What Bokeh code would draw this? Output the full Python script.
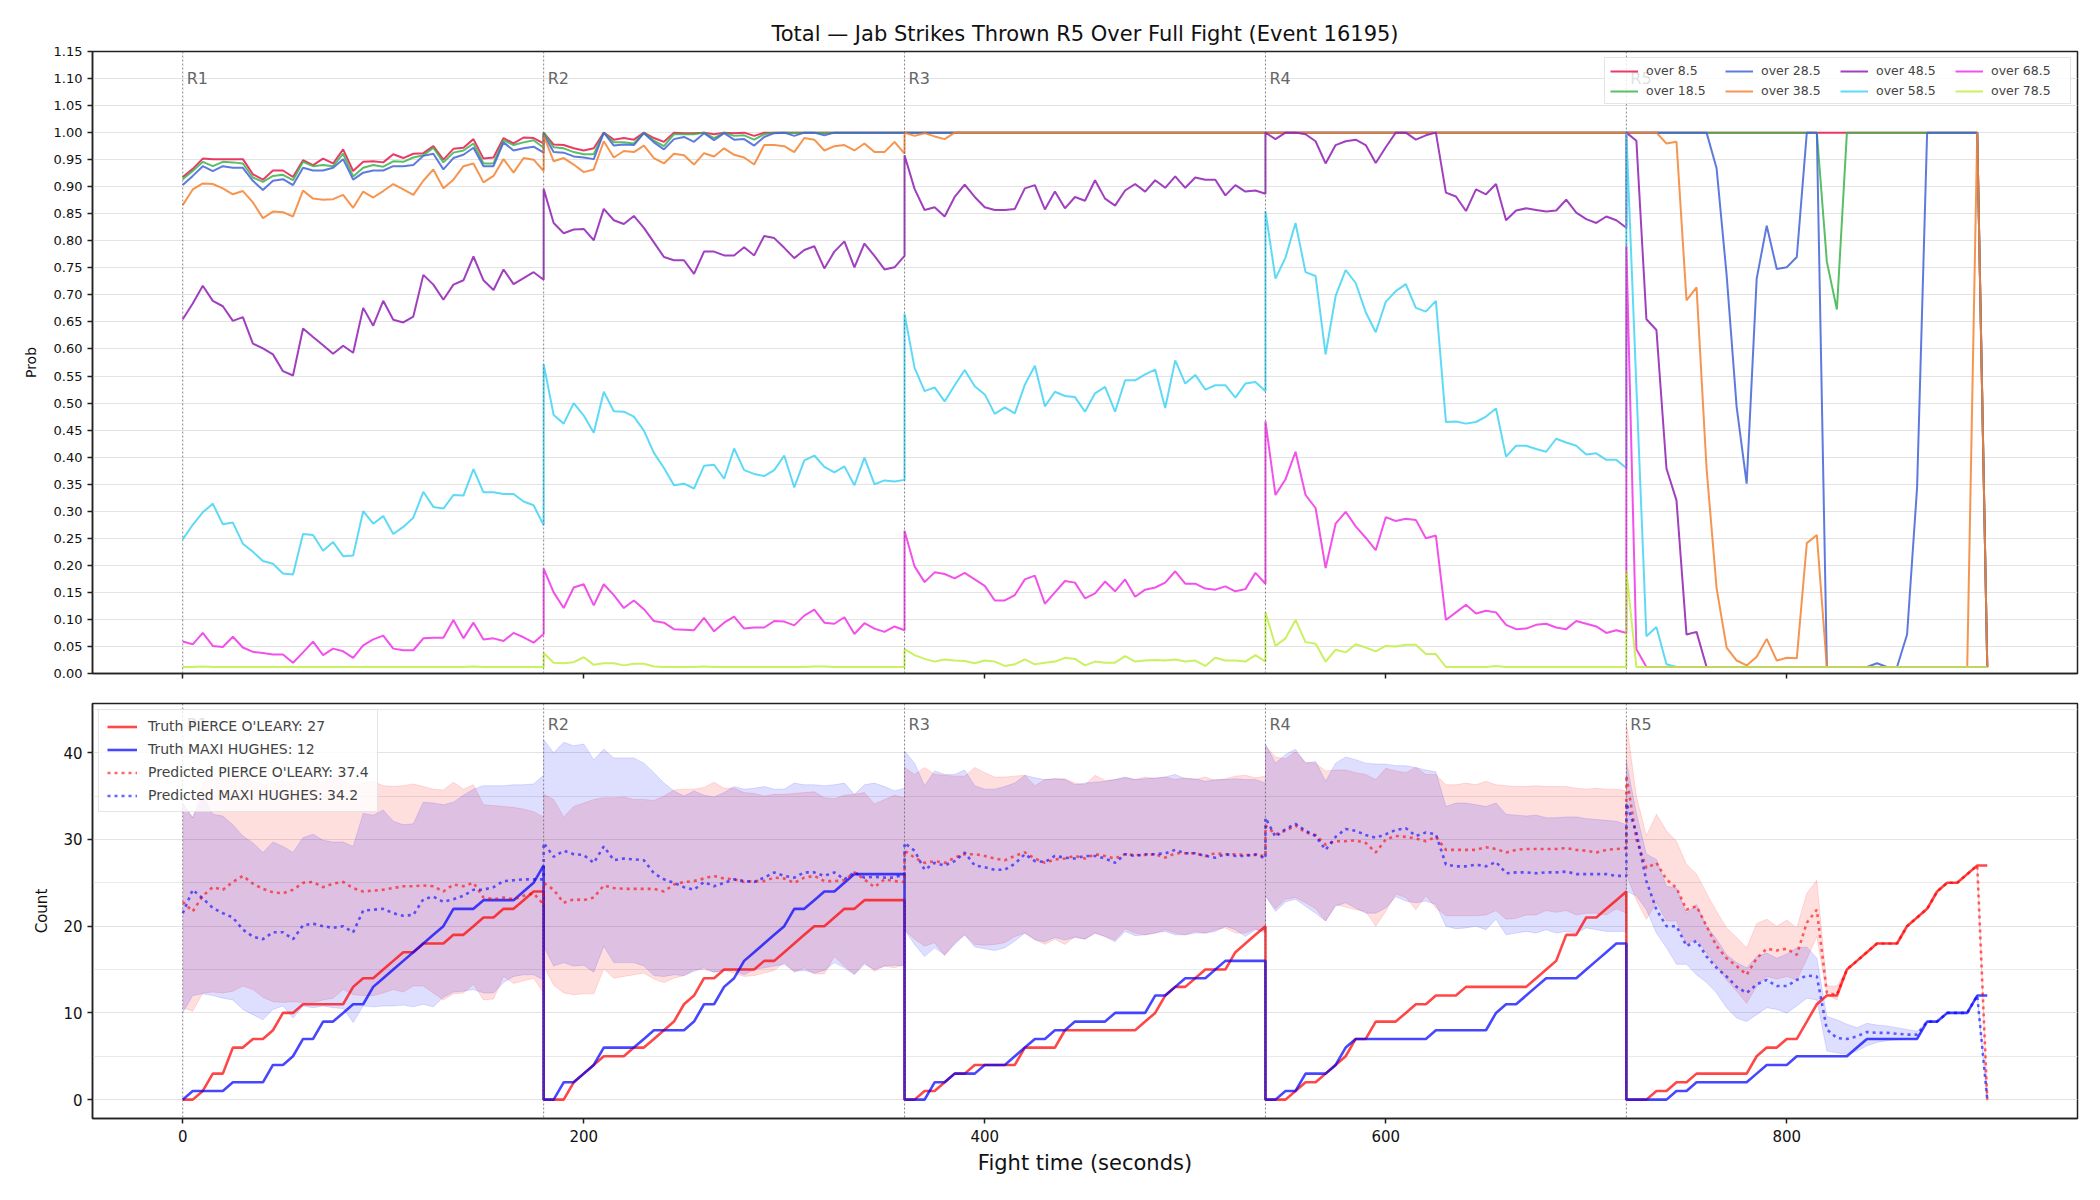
from bokeh.plotting import figure
from bokeh.layouts import column
from bokeh.models import (Range1d, FixedTicker, PrintfTickFormatter, Span, Legend,
                          LegendItem, ColumnDataSource)
from bokeh.core.properties import value
from bokeh.embed import file_html
from bokeh.resources import INLINE

FONT = "DejaVu Sans"
TITLE = "Total \u2014 Jab Strikes Thrown R5 Over Full Fight (Event 16195)"

# ---------------- sampling grid ----------------
ROUND_STARTS = [0, 180, 360, 540, 720]
ROUND_NAMES = ["R1", "R2", "R3", "R4", "R5"]
ROUND_LEN = 180
STEP = 5
T = [s + k for s in ROUND_STARTS for k in range(0, ROUND_LEN + 1, STEP)]

X_TICKS = [0, 200, 400, 600, 800]
PROB_TICKS = [0.00, 0.05, 0.10, 0.15, 0.20, 0.25, 0.30, 0.35, 0.40, 0.45, 0.50, 0.55,
              0.60, 0.65, 0.70, 0.75, 0.80, 0.85, 0.90, 0.95, 1.00, 1.05, 1.10, 1.15]
COUNT_TICKS = [0, 10, 20, 30, 40]
COUNT_MINOR = [5, 15, 25, 35, 45]

# ---------------- top panel: probabilities ----------------
LINE_LABELS = ["over 8.5", "over 18.5", "over 28.5", "over 38.5",
               "over 48.5", "over 58.5", "over 68.5", "over 78.5"]
LINE_COLORS = ["#e6194b", "#3cb44b", "#4363d8", "#f58231",
               "#911eb4", "#42d4f4", "#f032e6", "#bfef45"]

OVER_8_5 = [
    0.918, 0.933, 0.952, 0.951, 0.951, 0.951, 0.951, 0.923, 0.913, 0.930, 0.930, 0.918, 0.949, 0.940, 0.952, 0.943, 0.969, 0.929, 0.946,
    0.947, 0.945, 0.960, 0.953, 0.961, 0.962, 0.975, 0.950, 0.970, 0.972, 0.988, 0.952, 0.954, 0.990, 0.980, 0.991, 0.990, 0.980,
    1.000, 0.978, 0.977, 0.971, 0.967, 0.971, 1.000, 0.987, 0.990, 0.987, 1.000, 0.990, 0.983, 1.000, 0.999, 0.999, 1.000, 0.997, 1.000,
    0.999, 1.000, 0.994, 1.000, 1.000, 1.000, 1.000, 1.000, 1.000, 1.000, 1.000, 1.000, 1.000, 1.000, 1.000, 1.000, 1.000, 1.000,
    1.000, 1.000, 1.000, 1.000, 1.000, 1.000, 1.000, 1.000, 1.000, 1.000, 1.000, 1.000, 1.000, 1.000, 1.000, 1.000, 1.000, 1.000, 1.000,
    1.000, 1.000, 1.000, 1.000, 1.000, 1.000, 1.000, 1.000, 1.000, 1.000, 1.000, 1.000, 1.000, 1.000, 1.000, 1.000, 1.000, 1.000,
    1.000, 1.000, 1.000, 1.000, 1.000, 1.000, 1.000, 1.000, 1.000, 1.000, 1.000, 1.000, 1.000, 1.000, 1.000, 1.000, 1.000, 1.000, 1.000,
    1.000, 1.000, 1.000, 1.000, 1.000, 1.000, 1.000, 1.000, 1.000, 1.000, 1.000, 1.000, 1.000, 1.000, 1.000, 1.000, 1.000, 1.000,
    1.000, 1.000, 1.000, 1.000, 1.000, 1.000, 1.000, 1.000, 1.000, 1.000, 1.000, 1.000, 1.000, 1.000, 1.000, 1.000, 1.000, 1.000, 1.000,
    1.000, 1.000, 1.000, 1.000, 1.000, 1.000, 1.000, 1.000, 1.000, 1.000, 1.000, 1.000, 1.000, 1.000, 1.000, 1.000, 1.000, 0.012,
]
OVER_18_5 = [
    0.914, 0.929, 0.946, 0.938, 0.946, 0.945, 0.943, 0.917, 0.909, 0.920, 0.922, 0.912, 0.946, 0.938, 0.940, 0.938, 0.961, 0.919, 0.935,
    0.940, 0.937, 0.947, 0.946, 0.954, 0.958, 0.972, 0.945, 0.963, 0.967, 0.980, 0.943, 0.943, 0.986, 0.977, 0.982, 0.986, 0.972,
    1.000, 0.973, 0.971, 0.964, 0.960, 0.960, 1.000, 0.982, 0.982, 0.980, 1.000, 0.985, 0.975, 0.997, 0.997, 0.997, 1.000, 0.990, 1.000,
    0.994, 0.995, 0.987, 0.997, 1.000, 1.000, 1.000, 1.000, 1.000, 1.000, 1.000, 1.000, 1.000, 1.000, 1.000, 1.000, 1.000, 1.000,
    1.000, 1.000, 1.000, 1.000, 1.000, 1.000, 1.000, 1.000, 1.000, 1.000, 1.000, 1.000, 1.000, 1.000, 1.000, 1.000, 1.000, 1.000, 1.000,
    1.000, 1.000, 1.000, 1.000, 1.000, 1.000, 1.000, 1.000, 1.000, 1.000, 1.000, 1.000, 1.000, 1.000, 1.000, 1.000, 1.000, 1.000,
    1.000, 1.000, 1.000, 1.000, 1.000, 1.000, 1.000, 1.000, 1.000, 1.000, 1.000, 1.000, 1.000, 1.000, 1.000, 1.000, 1.000, 1.000, 1.000,
    1.000, 1.000, 1.000, 1.000, 1.000, 1.000, 1.000, 1.000, 1.000, 1.000, 1.000, 1.000, 1.000, 1.000, 1.000, 1.000, 1.000, 1.000,
    1.000, 1.000, 1.000, 1.000, 1.000, 1.000, 1.000, 1.000, 1.000, 1.000, 1.000, 1.000, 1.000, 1.000, 1.000, 1.000, 1.000, 1.000, 1.000,
    1.000, 0.761, 0.673, 1.000, 1.000, 1.000, 1.000, 1.000, 1.000, 1.000, 1.000, 1.000, 1.000, 1.000, 1.000, 1.000, 1.000, 0.012,
]
OVER_28_5 = [
    0.903, 0.920, 0.938, 0.929, 0.938, 0.935, 0.935, 0.911, 0.894, 0.911, 0.914, 0.903, 0.935, 0.930, 0.930, 0.935, 0.951, 0.913, 0.926,
    0.930, 0.930, 0.938, 0.938, 0.940, 0.957, 0.961, 0.932, 0.953, 0.959, 0.972, 0.938, 0.938, 0.982, 0.967, 0.971, 0.974, 0.963,
    0.997, 0.964, 0.963, 0.956, 0.954, 0.951, 1.000, 0.976, 0.978, 0.977, 0.999, 0.982, 0.969, 0.988, 0.992, 0.983, 0.999, 0.986, 0.999,
    0.987, 0.988, 0.976, 0.992, 0.999, 1.000, 0.994, 1.000, 1.000, 0.995, 1.000, 1.000, 1.000, 1.000, 1.000, 1.000, 1.000, 1.000,
    1.000, 1.000, 1.000, 1.000, 1.000, 1.000, 1.000, 1.000, 1.000, 1.000, 1.000, 1.000, 1.000, 1.000, 1.000, 1.000, 1.000, 1.000, 1.000,
    1.000, 1.000, 1.000, 1.000, 1.000, 1.000, 1.000, 1.000, 1.000, 1.000, 1.000, 1.000, 1.000, 1.000, 1.000, 1.000, 1.000, 1.000,
    1.000, 1.000, 1.000, 1.000, 1.000, 1.000, 1.000, 1.000, 1.000, 1.000, 1.000, 1.000, 1.000, 1.000, 1.000, 1.000, 1.000, 1.000, 1.000,
    1.000, 1.000, 1.000, 1.000, 1.000, 1.000, 1.000, 1.000, 1.000, 1.000, 1.000, 1.000, 1.000, 1.000, 1.000, 1.000, 1.000, 1.000,
    1.000, 1.000, 1.000, 1.000, 1.000, 1.000, 1.000, 1.000, 1.000, 0.934, 0.737, 0.493, 0.351, 0.730, 0.828, 0.748, 0.751, 0.770, 1.000,
    1.000, 0.012, 0.012, 0.012, 0.012, 0.012, 0.019, 0.012, 0.012, 0.072, 0.344, 1.000, 1.000, 1.000, 1.000, 1.000, 1.000, 0.012,
]
OVER_38_5 = [
    0.866, 0.895, 0.906, 0.905, 0.897, 0.886, 0.892, 0.871, 0.842, 0.854, 0.853, 0.845, 0.893, 0.878, 0.876, 0.877, 0.885, 0.861, 0.891,
    0.880, 0.892, 0.905, 0.895, 0.885, 0.911, 0.932, 0.897, 0.913, 0.938, 0.943, 0.908, 0.920, 0.951, 0.926, 0.953, 0.950, 0.929,
    0.995, 0.947, 0.953, 0.941, 0.927, 0.932, 0.984, 0.954, 0.966, 0.964, 0.976, 0.953, 0.943, 0.961, 0.958, 0.941, 0.962, 0.956, 0.971,
    0.959, 0.954, 0.941, 0.977, 0.977, 0.975, 0.964, 0.990, 0.987, 0.967, 0.975, 0.977, 0.967, 0.980, 0.964, 0.964, 0.983, 0.961,
    1.000, 0.994, 0.999, 0.993, 0.988, 1.000, 1.000, 1.000, 1.000, 1.000, 1.000, 1.000, 1.000, 1.000, 1.000, 1.000, 1.000, 1.000, 1.000,
    1.000, 1.000, 1.000, 1.000, 1.000, 1.000, 1.000, 1.000, 1.000, 1.000, 1.000, 1.000, 1.000, 1.000, 1.000, 1.000, 1.000, 1.000,
    1.000, 1.000, 1.000, 1.000, 1.000, 1.000, 1.000, 1.000, 1.000, 1.000, 1.000, 1.000, 1.000, 1.000, 1.000, 1.000, 1.000, 1.000, 1.000,
    1.000, 1.000, 1.000, 1.000, 1.000, 1.000, 1.000, 1.000, 1.000, 1.000, 1.000, 1.000, 1.000, 1.000, 1.000, 1.000, 1.000, 1.000,
    1.000, 1.000, 1.000, 1.000, 0.980, 0.983, 0.690, 0.714, 0.379, 0.158, 0.048, 0.024, 0.015, 0.031, 0.064, 0.024, 0.029, 0.028, 0.241,
    0.256, 0.012, 0.012, 0.012, 0.012, 0.012, 0.012, 0.012, 0.012, 0.012, 0.012, 0.012, 0.012, 0.012, 0.012, 0.012, 1.000, 0.012,
]
OVER_48_5 = [
    0.655, 0.684, 0.717, 0.689, 0.679, 0.652, 0.659, 0.610, 0.601, 0.590, 0.559, 0.551, 0.638, 0.622, 0.607, 0.591, 0.606, 0.593, 0.676,
    0.643, 0.689, 0.654, 0.649, 0.660, 0.737, 0.719, 0.691, 0.719, 0.727, 0.771, 0.727, 0.709, 0.747, 0.720, 0.731, 0.742, 0.728,
    0.896, 0.833, 0.814, 0.821, 0.822, 0.801, 0.859, 0.838, 0.831, 0.846, 0.824, 0.797, 0.770, 0.764, 0.764, 0.739, 0.780, 0.780, 0.773,
    0.773, 0.788, 0.773, 0.809, 0.805, 0.787, 0.768, 0.783, 0.790, 0.749, 0.780, 0.799, 0.751, 0.795, 0.772, 0.747, 0.751, 0.772,
    0.958, 0.896, 0.857, 0.862, 0.845, 0.881, 0.904, 0.881, 0.862, 0.857, 0.857, 0.859, 0.897, 0.903, 0.858, 0.891, 0.860, 0.881, 0.874,
    0.912, 0.878, 0.865, 0.893, 0.905, 0.891, 0.912, 0.898, 0.919, 0.898, 0.917, 0.913, 0.913, 0.884, 0.903, 0.891, 0.893, 0.887,
    1.000, 0.988, 1.000, 1.000, 0.997, 0.984, 0.943, 0.977, 0.984, 0.987, 0.977, 0.944, 0.973, 1.000, 1.000, 0.987, 0.995, 1.000, 0.889,
    0.882, 0.855, 0.895, 0.886, 0.905, 0.838, 0.856, 0.860, 0.857, 0.854, 0.856, 0.876, 0.852, 0.840, 0.833, 0.845, 0.838, 0.824,
    1.000, 0.985, 0.655, 0.635, 0.379, 0.320, 0.072, 0.077, 0.012, 0.012, 0.012, 0.012, 0.012, 0.012, 0.012, 0.012, 0.012, 0.012, 0.012,
    0.012, 0.012, 0.012, 0.012, 0.012, 0.012, 0.012, 0.012, 0.012, 0.012, 0.012, 0.012, 0.012, 0.012, 0.012, 0.012, 0.012, 0.012,
]
OVER_58_5 = [
    0.248, 0.275, 0.298, 0.314, 0.276, 0.279, 0.240, 0.225, 0.208, 0.203, 0.185, 0.183, 0.258, 0.256, 0.227, 0.243, 0.217, 0.218, 0.300,
    0.277, 0.291, 0.258, 0.271, 0.288, 0.336, 0.308, 0.305, 0.330, 0.329, 0.378, 0.335, 0.335, 0.332, 0.332, 0.318, 0.311, 0.274,
    0.572, 0.478, 0.462, 0.500, 0.477, 0.445, 0.521, 0.485, 0.484, 0.475, 0.449, 0.408, 0.380, 0.348, 0.351, 0.342, 0.384, 0.386, 0.360,
    0.416, 0.376, 0.369, 0.365, 0.376, 0.403, 0.344, 0.394, 0.403, 0.382, 0.372, 0.383, 0.348, 0.399, 0.350, 0.357, 0.355, 0.358,
    0.665, 0.565, 0.522, 0.529, 0.503, 0.533, 0.561, 0.531, 0.516, 0.480, 0.492, 0.481, 0.534, 0.569, 0.494, 0.521, 0.513, 0.511, 0.484,
    0.518, 0.530, 0.484, 0.542, 0.542, 0.553, 0.562, 0.491, 0.579, 0.536, 0.552, 0.525, 0.533, 0.533, 0.510, 0.536, 0.539, 0.522,
    0.855, 0.730, 0.769, 0.833, 0.742, 0.735, 0.590, 0.698, 0.746, 0.722, 0.668, 0.631, 0.687, 0.707, 0.720, 0.676, 0.669, 0.689, 0.465,
    0.466, 0.462, 0.465, 0.475, 0.490, 0.401, 0.421, 0.421, 0.415, 0.410, 0.434, 0.427, 0.421, 0.405, 0.407, 0.395, 0.395, 0.380,
    1.000, 0.530, 0.069, 0.086, 0.017, 0.012, 0.012, 0.012, 0.012, 0.012, 0.012, 0.012, 0.012, 0.012, 0.012, 0.012, 0.012, 0.012, 0.012,
    0.012, 0.012, 0.012, 0.012, 0.012, 0.012, 0.012, 0.012, 0.012, 0.012, 0.012, 0.012, 0.012, 0.012, 0.012, 0.012, 0.012, 0.012,
]
OVER_68_5 = [
    0.059, 0.054, 0.075, 0.051, 0.049, 0.068, 0.048, 0.040, 0.038, 0.035, 0.035, 0.020, 0.039, 0.059, 0.034, 0.046, 0.041, 0.029, 0.052,
    0.063, 0.070, 0.046, 0.043, 0.043, 0.065, 0.066, 0.066, 0.099, 0.065, 0.094, 0.063, 0.065, 0.060, 0.075, 0.067, 0.057, 0.073,
    0.194, 0.150, 0.121, 0.159, 0.165, 0.126, 0.165, 0.145, 0.121, 0.135, 0.119, 0.097, 0.094, 0.082, 0.081, 0.080, 0.103, 0.078, 0.094,
    0.105, 0.083, 0.085, 0.085, 0.097, 0.096, 0.089, 0.107, 0.118, 0.094, 0.092, 0.104, 0.073, 0.093, 0.083, 0.077, 0.087, 0.080,
    0.264, 0.198, 0.169, 0.187, 0.184, 0.176, 0.186, 0.174, 0.162, 0.135, 0.135, 0.145, 0.174, 0.181, 0.129, 0.150, 0.171, 0.168, 0.139,
    0.148, 0.170, 0.152, 0.174, 0.142, 0.155, 0.159, 0.168, 0.189, 0.166, 0.166, 0.157, 0.155, 0.161, 0.152, 0.156, 0.186, 0.166,
    0.466, 0.330, 0.359, 0.410, 0.330, 0.306, 0.195, 0.277, 0.299, 0.272, 0.251, 0.228, 0.289, 0.282, 0.286, 0.284, 0.250, 0.255, 0.099,
    0.113, 0.127, 0.111, 0.116, 0.113, 0.090, 0.082, 0.083, 0.090, 0.092, 0.085, 0.082, 0.097, 0.092, 0.087, 0.075, 0.080, 0.075,
    0.790, 0.045, 0.012, 0.012, 0.012, 0.012, 0.012, 0.012, 0.012, 0.012, 0.012, 0.012, 0.012, 0.012, 0.012, 0.012, 0.012, 0.012, 0.012,
    0.012, 0.012, 0.012, 0.012, 0.012, 0.012, 0.012, 0.012, 0.012, 0.012, 0.012, 0.012, 0.012, 0.012, 0.012, 0.012, 0.012, 0.012,
]
OVER_78_5 = [
    0.012, 0.012, 0.013, 0.012, 0.012, 0.012, 0.012, 0.012, 0.012, 0.012, 0.012, 0.012, 0.012, 0.012, 0.012, 0.012, 0.012, 0.012, 0.012,
    0.012, 0.012, 0.012, 0.012, 0.012, 0.012, 0.012, 0.012, 0.012, 0.012, 0.013, 0.012, 0.012, 0.012, 0.012, 0.012, 0.012, 0.012,
    0.038, 0.020, 0.019, 0.021, 0.030, 0.016, 0.019, 0.019, 0.015, 0.018, 0.018, 0.013, 0.012, 0.012, 0.012, 0.012, 0.013, 0.012, 0.012,
    0.012, 0.012, 0.012, 0.012, 0.012, 0.012, 0.012, 0.012, 0.013, 0.013, 0.012, 0.012, 0.012, 0.012, 0.012, 0.012, 0.012, 0.012,
    0.045, 0.034, 0.027, 0.022, 0.026, 0.024, 0.023, 0.019, 0.024, 0.022, 0.014, 0.017, 0.026, 0.017, 0.020, 0.022, 0.029, 0.027, 0.015,
    0.022, 0.020, 0.020, 0.032, 0.022, 0.024, 0.025, 0.024, 0.026, 0.022, 0.024, 0.014, 0.029, 0.024, 0.024, 0.022, 0.034, 0.022,
    0.113, 0.051, 0.065, 0.099, 0.058, 0.055, 0.022, 0.044, 0.039, 0.054, 0.048, 0.041, 0.051, 0.050, 0.053, 0.053, 0.036, 0.036, 0.012,
    0.012, 0.012, 0.012, 0.012, 0.014, 0.012, 0.012, 0.012, 0.012, 0.012, 0.012, 0.012, 0.012, 0.012, 0.012, 0.012, 0.012, 0.012,
    0.190, 0.012, 0.012, 0.012, 0.012, 0.012, 0.012, 0.012, 0.012, 0.012, 0.012, 0.012, 0.012, 0.012, 0.012, 0.012, 0.012, 0.012, 0.012,
    0.012, 0.012, 0.012, 0.012, 0.012, 0.012, 0.012, 0.012, 0.012, 0.012, 0.012, 0.012, 0.012, 0.012, 0.012, 0.012, 0.012, 0.012,
]
PROB_SERIES = [OVER_8_5, OVER_18_5, OVER_28_5, OVER_38_5, OVER_48_5, OVER_58_5, OVER_68_5, OVER_78_5]

# ---------------- bottom panel: counts ----------------
NAME_A = "PIERCE O'LEARY"
NAME_B = "MAXI HUGHES"
TRUTH_FINAL_A = 27
TRUTH_FINAL_B = 12
PRED_FINAL_A = 37.4
PRED_FINAL_B = 34.2

TRUTH_A = [
    0, 0, 1, 3, 3, 6, 6, 7, 7, 8, 10, 10, 11, 11, 11, 11, 11, 13, 14, 14, 15, 16, 17, 17, 18, 18, 18, 19, 19, 20, 21, 21, 22, 22, 23, 24, 24,
    0, 0, 0, 2, 3, 4, 5, 5, 5, 6, 6, 7, 8, 9, 11, 12, 14, 14, 15, 15, 15, 15, 16, 16, 17, 18, 19, 20, 20, 21, 22, 22, 23, 23, 23, 23, 23,
    0, 0, 1, 1, 2, 3, 3, 4, 4, 4, 4, 4, 6, 6, 6, 6, 8, 8, 8, 8, 8, 8, 8, 8, 9, 10, 12, 13, 13, 14, 15, 15, 15, 17, 18, 19, 20,
    0, 0, 0, 1, 2, 2, 3, 4, 5, 7, 7, 9, 9, 9, 10, 11, 11, 12, 12, 12, 13, 13, 13, 13, 13, 13, 13, 14, 15, 16, 19, 19, 21, 21, 22, 23, 24,
    0, 0, 0, 1, 1, 2, 2, 3, 3, 3, 3, 3, 3, 5, 6, 6, 7, 7, 9, 11, 12, 12, 15, 16, 17, 18, 18, 18, 20, 21, 22, 24, 25, 25, 26, 27, 27,
]
TRUTH_B = [
    0, 1, 1, 1, 1, 2, 2, 2, 2, 4, 4, 5, 7, 7, 9, 9, 10, 11, 11, 13, 14, 15, 16, 17, 18, 19, 20, 22, 22, 22, 23, 23, 23, 23, 24, 25, 27,
    0, 0, 2, 2, 3, 4, 6, 6, 6, 6, 7, 8, 8, 8, 8, 9, 11, 11, 13, 14, 16, 17, 18, 19, 20, 22, 22, 23, 24, 24, 25, 26, 26, 26, 26, 26, 26,
    0, 0, 0, 2, 2, 3, 3, 3, 4, 4, 4, 5, 6, 7, 7, 8, 8, 9, 9, 9, 9, 10, 10, 10, 10, 12, 12, 13, 14, 14, 14, 15, 16, 16, 16, 16, 16,
    0, 0, 1, 1, 3, 3, 3, 4, 6, 7, 7, 7, 7, 7, 7, 7, 7, 8, 8, 8, 8, 8, 8, 10, 11, 11, 12, 13, 14, 14, 14, 14, 15, 16, 17, 18, 18,
    0, 0, 0, 0, 0, 1, 1, 2, 2, 2, 2, 2, 2, 3, 4, 4, 4, 5, 5, 5, 5, 5, 5, 6, 7, 7, 7, 7, 7, 7, 9, 9, 10, 10, 10, 12, 12,
]
PRED_A = [
    22.8, 21.7, 23.5, 24.5, 24.2, 25.1, 25.8, 24.9, 24.3, 23.9, 23.8, 24.2, 25.0, 25.1, 24.5, 24.9, 25.1, 24.4, 24.0,
    24.1, 24.2, 24.4, 24.6, 24.6, 24.7, 24.6, 24.0, 24.8, 24.6, 25.0, 23.3, 23.1, 23.3, 23.1, 23.5, 23.8, 22.5,
    25.0, 24.2, 22.7, 23.1, 23.0, 23.3, 24.7, 24.4, 24.3, 24.3, 24.3, 24.3, 24.0, 24.8, 25.1, 25.2, 25.5, 25.8, 25.5,
    25.4, 25.1, 25.2, 25.2, 25.6, 25.5, 25.0, 25.6, 25.8, 25.2, 25.2, 25.3, 26.2, 25.4, 24.5, 25.4, 25.2, 25.1,
    28.7, 27.9, 27.3, 27.5, 27.3, 27.9, 28.3, 28.3, 28.1, 27.8, 27.6, 28.1, 28.5, 27.8, 27.3, 27.7, 27.8, 28.1, 27.8,
    28.3, 28.1, 27.8, 28.3, 28.2, 28.2, 28.3, 27.9, 28.4, 28.4, 28.4, 28.1, 28.4, 28.3, 28.3, 28.2, 28.2, 28.1,
    31.6, 30.6, 31.0, 31.6, 30.8, 30.5, 29.4, 29.8, 29.8, 29.9, 29.6, 28.5, 30.0, 30.4, 30.3, 30.1, 29.8, 30.3, 28.8,
    28.8, 28.8, 28.8, 29.1, 28.9, 28.5, 28.8, 28.9, 28.9, 28.9, 28.9, 29.0, 28.8, 28.7, 28.5, 28.8, 28.9, 29.0,
    37.4, 30.0, 26.7, 27.3, 25.4, 24.4, 21.9, 22.3, 20.0, 17.7, 16.3, 15.4, 14.4, 16.3, 17.4, 17.2, 17.4, 16.7, 20.4,
    21.9, 12.3, 12.1, 15.0, 16.0, 17.0, 18.0, 18.0, 18.0, 20.0, 21.0, 22.0, 24.0, 25.0, 25.0, 26.0, 27.0, 0.0,
]
PRED_B = [
    21.5, 24.2, 23.2, 22.1, 21.5, 21.0, 19.6, 18.8, 18.5, 19.3, 19.3, 18.5, 20.1, 20.3, 20.0, 19.8, 20.0, 19.3, 21.8,
    21.9, 22.0, 21.5, 21.2, 21.3, 23.1, 23.4, 22.8, 23.1, 23.5, 24.2, 24.2, 24.5, 25.2, 25.3, 25.4, 25.4, 25.4,
    29.6, 28.0, 28.7, 28.3, 28.2, 27.3, 29.2, 27.6, 27.8, 27.7, 27.6, 26.1, 25.4, 25.0, 24.5, 24.2, 25.1, 24.6, 25.0,
    25.4, 25.2, 25.1, 25.6, 26.2, 25.8, 25.6, 26.2, 26.2, 25.8, 26.2, 25.4, 26.2, 25.6, 25.7, 25.6, 25.6, 26.0,
    29.6, 28.7, 26.5, 27.3, 27.0, 27.5, 28.5, 27.0, 26.8, 26.5, 26.5, 27.2, 28.3, 27.5, 27.4, 28.1, 27.9, 27.8, 28.1,
    28.1, 27.8, 27.3, 28.3, 28.1, 28.3, 28.3, 28.4, 28.8, 28.4, 28.4, 28.1, 27.9, 28.3, 28.1, 28.1, 28.3, 27.8,
    32.5, 30.3, 31.2, 31.8, 31.0, 30.4, 28.8, 30.3, 31.2, 31.0, 30.5, 30.2, 30.6, 31.1, 31.3, 30.4, 30.8, 30.6, 27.1,
    26.9, 26.9, 27.1, 26.9, 27.4, 26.1, 26.2, 26.2, 26.1, 26.2, 26.2, 26.3, 26.0, 26.0, 26.0, 26.0, 25.8, 25.8,
    34.2, 30.8, 25.2, 21.9, 20.0, 20.0, 17.7, 18.3, 16.5, 15.2, 14.2, 13.0, 12.3, 13.3, 13.8, 13.1, 13.1, 13.8, 14.3,
    14.2, 8.1, 7.1, 7.0, 7.3, 7.8, 7.7, 7.7, 7.6, 7.5, 7.5, 9.0, 9.0, 10.0, 10.0, 10.0, 12.0, 0.0,
]
HI_A = [
    34.2, 32.5, 36.5, 37.0, 37.3, 37.0, 37.5, 36.8, 36.3, 36.5, 36.8, 36.5, 37.2, 37.0, 36.5, 37.3, 36.8, 36.2, 36.5,
    36.7, 36.2, 36.1, 36.2, 36.4, 36.1, 35.8, 35.7, 36.6, 35.8, 36.3, 34.0, 33.9, 33.8, 33.7, 33.5, 33.2, 32.6,
    35.2, 34.6, 32.6, 33.8, 34.2, 34.6, 34.8, 34.8, 34.9, 34.6, 34.6, 34.5, 35.0, 35.7, 35.8, 35.8, 36.0, 36.6, 35.9,
    35.9, 35.4, 35.3, 35.0, 35.2, 35.2, 35.3, 35.4, 35.5, 34.8, 34.7, 35.1, 35.2, 35.4, 34.1, 34.6, 35.1, 34.8,
    38.3, 37.5, 38.3, 37.5, 37.4, 37.3, 37.3, 38.3, 37.7, 37.2, 37.2, 37.3, 37.4, 36.2, 36.9, 37.0, 37.0, 36.5, 36.3,
    37.4, 36.8, 36.9, 37.1, 36.9, 37.2, 37.0, 37.2, 36.9, 37.1, 36.9, 37.2, 36.8, 37.0, 37.3, 37.4, 37.1, 37.3,
    40.8, 39.5, 39.3, 40.1, 38.9, 38.8, 37.9, 38.0, 38.0, 37.7, 37.5, 36.9, 38.2, 37.9, 37.7, 38.3, 37.5, 37.5, 36.3,
    36.3, 36.5, 36.3, 36.7, 36.3, 36.2, 36.1, 36.1, 36.2, 36.1, 36.1, 36.1, 35.9, 35.8, 35.9, 35.8, 35.8, 35.6,
    43.5, 35.0, 30.4, 32.9, 31.0, 29.8, 27.1, 26.0, 23.8, 21.7, 19.8, 18.7, 17.5, 20.3, 20.8, 20.0, 20.7, 19.8, 23.8,
    25.3, 13.1, 13.1, 15.0, 16.0, 17.0, 18.0, 18.0, 18.0, 20.0, 21.0, 22.0, 24.0, 25.0, 25.0, 26.0, 27.0, 0.0,
]
LO_A = [
    10.6, 10.2, 12.3, 12.4, 12.3, 12.5, 13.1, 12.7, 11.8, 11.3, 11.2, 11.3, 11.2, 11.2, 11.5, 11.7, 12.7, 12.1, 12.0,
    12.0, 12.3, 12.7, 12.4, 13.1, 13.1, 12.3, 11.5, 12.2, 12.3, 13.3, 11.5, 11.6, 14.2, 13.4, 13.7, 14.0, 12.3,
    15.4, 13.2, 12.3, 12.1, 12.2, 12.2, 15.1, 14.0, 14.2, 14.4, 14.6, 13.9, 13.5, 14.0, 14.3, 15.0, 15.0, 14.7, 14.9,
    14.6, 14.2, 14.3, 14.6, 14.9, 15.8, 14.7, 15.2, 14.5, 14.5, 16.5, 15.4, 14.5, 15.8, 14.8, 15.4, 15.2, 15.6,
    19.6, 18.5, 17.7, 18.1, 16.6, 18.1, 19.0, 17.9, 17.8, 17.9, 18.1, 18.8, 19.2, 18.5, 17.9, 18.5, 17.9, 18.8, 18.5,
    19.2, 18.8, 18.4, 19.7, 19.2, 19.0, 19.2, 19.6, 19.2, 19.0, 19.4, 19.2, 19.6, 19.8, 19.2, 19.2, 19.7, 19.2,
    23.5, 22.0, 23.1, 23.3, 22.7, 22.0, 20.6, 22.5, 22.2, 21.9, 21.7, 20.0, 21.7, 23.7, 23.3, 21.9, 23.5, 22.1, 21.2,
    21.2, 21.2, 21.2, 21.3, 21.8, 20.8, 20.9, 21.3, 21.3, 21.8, 21.6, 21.8, 21.3, 21.5, 21.5, 21.3, 22.0, 21.5,
    26.0, 23.0, 20.8, 22.7, 20.6, 20.6, 17.9, 18.5, 16.9, 15.4, 13.8, 12.5, 11.1, 13.1, 14.2, 13.9, 14.2, 13.8, 16.2,
    18.8, 12.1, 11.5, 15.0, 16.0, 17.0, 18.0, 18.0, 18.0, 20.0, 21.0, 22.0, 24.0, 25.0, 25.0, 26.0, 27.0, 0.0,
]
HI_B = [
    34.2, 32.5, 35.1, 32.9, 32.7, 31.7, 30.4, 29.6, 28.5, 29.7, 29.2, 28.5, 30.2, 30.6, 29.9, 29.7, 29.7, 29.2, 33.0,
    32.8, 33.4, 32.1, 31.7, 31.8, 34.3, 34.2, 34.0, 34.3, 35.1, 35.8, 36.2, 36.2, 36.2, 36.3, 36.3, 36.4, 37.4,
    41.5, 40.0, 41.2, 40.8, 41.0, 39.2, 40.4, 39.4, 39.4, 39.4, 38.8, 37.7, 36.5, 35.6, 35.0, 35.6, 35.1, 34.9, 35.4,
    36.1, 35.8, 35.9, 36.1, 35.8, 35.8, 36.5, 36.3, 36.3, 36.2, 36.3, 36.5, 35.2, 36.3, 36.5, 36.1, 35.6, 35.9,
    40.2, 38.8, 36.2, 37.9, 37.5, 37.5, 38.0, 36.2, 35.8, 35.8, 36.1, 36.5, 37.4, 37.1, 36.9, 37.0, 36.9, 36.3, 36.5,
    36.6, 36.7, 36.9, 37.2, 36.9, 37.0, 37.1, 37.2, 37.5, 37.0, 37.0, 36.7, 36.9, 36.9, 37.0, 36.9, 36.9, 36.5,
    41.0, 38.8, 39.8, 40.4, 38.8, 39.0, 36.7, 38.8, 39.5, 39.2, 38.8, 38.7, 38.7, 38.5, 38.5, 38.3, 38.0, 37.8, 33.8,
    34.2, 34.2, 34.0, 33.8, 34.2, 32.9, 32.8, 32.7, 32.8, 32.5, 32.5, 32.6, 32.6, 32.4, 32.3, 32.2, 32.1, 31.7,
    39.0, 33.0, 28.3, 27.7, 24.6, 24.4, 21.5, 22.5, 20.0, 18.5, 16.7, 15.8, 15.2, 16.5, 16.9, 16.3, 16.8, 17.5, 17.6,
    16.3, 9.6, 9.2, 8.7, 8.3, 8.8, 8.6, 8.5, 8.3, 8.1, 7.9, 9.0, 9.0, 10.0, 10.0, 10.0, 12.0, 0.0,
]
LO_B = [
    10.0, 12.0, 12.2, 12.0, 11.7, 11.5, 10.4, 9.8, 9.2, 10.4, 10.8, 9.4, 10.8, 10.6, 10.8, 10.6, 10.5, 8.9, 10.8,
    10.7, 10.8, 10.8, 10.9, 10.7, 11.0, 10.7, 11.8, 12.4, 12.5, 12.7, 12.3, 12.3, 13.5, 14.2, 14.4, 14.4, 13.8,
    17.7, 15.4, 15.8, 15.4, 15.5, 14.7, 17.7, 15.8, 15.8, 15.8, 15.4, 14.3, 14.2, 14.4, 14.3, 14.8, 15.2, 14.7, 14.9,
    14.9, 14.4, 15.0, 15.2, 15.4, 15.6, 14.8, 14.9, 14.6, 14.9, 15.8, 15.2, 14.4, 15.6, 15.0, 15.4, 15.5, 15.4,
    19.6, 17.9, 16.5, 17.5, 16.7, 17.9, 19.0, 17.6, 17.4, 17.2, 17.5, 18.3, 19.2, 18.4, 18.2, 18.7, 18.4, 18.7, 18.5,
    19.2, 18.8, 18.2, 19.4, 18.9, 19.0, 19.2, 19.4, 19.0, 19.0, 19.2, 19.2, 19.4, 20.0, 19.6, 18.8, 19.6, 19.4,
    23.5, 21.7, 22.8, 23.1, 22.3, 21.5, 20.6, 22.3, 22.7, 22.1, 21.5, 21.5, 22.1, 23.4, 22.9, 22.7, 22.9, 22.5, 20.0,
    19.7, 19.8, 20.0, 19.6, 20.8, 19.0, 19.2, 19.4, 19.2, 19.6, 19.2, 19.4, 19.2, 19.8, 19.6, 19.4, 19.4, 19.4,
    24.0, 23.5, 21.9, 19.2, 17.5, 15.6, 15.6, 14.4, 13.5, 12.3, 10.6, 9.4, 9.0, 9.8, 10.6, 10.4, 10.0, 10.8, 11.7,
    11.5, 5.6, 5.4, 5.2, 5.6, 6.2, 6.6, 6.8, 6.9, 7.0, 7.0, 9.0, 9.0, 10.0, 10.0, 10.0, 12.0, 0.0,
]

for nm, arr in [("OVER_8_5", OVER_8_5), ("OVER_18_5", OVER_18_5), ("OVER_28_5", OVER_28_5),
                ("OVER_38_5", OVER_38_5), ("OVER_48_5", OVER_48_5), ("OVER_58_5", OVER_58_5),
                ("OVER_68_5", OVER_68_5), ("OVER_78_5", OVER_78_5), ("TRUTH_A", TRUTH_A),
                ("TRUTH_B", TRUTH_B), ("PRED_A", PRED_A), ("PRED_B", PRED_B), ("HI_A", HI_A),
                ("LO_A", LO_A), ("HI_B", HI_B), ("LO_B", LO_B)]:
    assert len(arr) == len(T), f"{nm} has {len(arr)} values, expected {len(T)}"

RED = "#ff0000"
BLUE = "#0000ff"

# ---------------- figures ----------------
x_range = Range1d(-45, 945)


def style(p):
    p.outline_line_color = "#222222"
    p.outline_line_width = 1.5
    p.background_fill_color = "white"
    p.border_fill_color = "white"
    p.xgrid.grid_line_color = None
    p.ygrid.grid_line_color = "#e3e3e3"
    p.ygrid.grid_line_width = 1
    for ax in (p.xaxis[0], p.yaxis[0]):
        ax.axis_line_color = "#222222"
        ax.axis_line_width = 1.5
        ax.major_tick_line_color = "#222222"
        ax.major_tick_line_width = 1.5
        ax.major_tick_out = 5
        ax.major_tick_in = 0
        ax.minor_tick_line_color = None
        ax.major_label_text_font = FONT
        ax.major_label_text_color = "#111111"
        ax.axis_label_text_font = FONT
        ax.axis_label_text_font_style = "normal"
        ax.axis_label_text_color = "#111111"


top = figure(frame_width=1985, frame_height=622, x_range=x_range, y_range=Range1d(0, 1.15),
             output_backend="svg", toolbar_location=None,
             min_border_left=92, min_border_right=23, min_border_top=51, min_border_bottom=15)
style(top)
top.title.text = TITLE
top.title.align = "center"
top.title.text_font = FONT
top.title.text_font_size = "21px"
top.title.text_font_style = "normal"
top.title.text_color = "#111111"
top.title.standoff = 12
top.xaxis.ticker = FixedTicker(ticks=X_TICKS)
# tick marks only on the upper panel (labels shared with the lower panel)
top.xaxis.major_label_text_color = None
top.xaxis.major_label_text_font_size = "8px"
top.xaxis.major_label_standoff = 0
top.yaxis.ticker = FixedTicker(ticks=PROB_TICKS)
top.yaxis.formatter = PrintfTickFormatter(format="%.2f")
top.yaxis.major_label_text_font_size = "13px"
top.yaxis.axis_label = "Prob"
top.yaxis.axis_label_text_font_size = "14px"
top.yaxis.axis_label_standoff = 12

for s in ROUND_STARTS:
    top.add_layout(Span(location=s, dimension="height", line_color="#555555",
                        line_alpha=0.7, line_width=1, line_dash="2 2"))

top_items = []
for lab, col, vals in zip(LINE_LABELS, LINE_COLORS, PROB_SERIES):
    r = top.line(T, vals, line_color=col, line_width=2, line_alpha=0.85)
    top_items.append(LegendItem(label=lab, renderers=[r]))

round_src = ColumnDataSource(dict(x=ROUND_STARTS, t=ROUND_NAMES))
top.text(x="x", y=1.10, text="t", source=round_src, x_offset=4, text_baseline="middle",
         text_align="left", text_font=value(FONT), text_font_size="16px",
         text_color="#666666")

leg_top = Legend(items=top_items, location="top_right", orientation="vertical", nrows=2, ncols=4,
                 label_text_font=FONT, label_text_font_size="12.5px", glyph_width=28,
                 glyph_height=14, label_height=14, label_width=74, spacing=5, padding=5,
                 margin=6, label_standoff=8, border_line_color="#cccccc", border_line_width=1.5,
                 background_fill_alpha=0.8)
top.add_layout(leg_top)

bot = figure(frame_width=1985, frame_height=415, x_range=x_range, y_range=Range1d(-2.175, 45.675),
             output_backend="svg", toolbar_location=None,
             min_border_left=92, min_border_right=23, min_border_top=15, min_border_bottom=82)
style(bot)
bot.xaxis.ticker = FixedTicker(ticks=X_TICKS)
bot.xaxis.major_label_text_font_size = "15px"
bot.xaxis.major_label_standoff = 6
bot.xaxis.axis_label = "Fight time (seconds)"
bot.xaxis.axis_label_text_font_size = "21px"
bot.xaxis.axis_label_standoff = 6
bot.yaxis.ticker = FixedTicker(ticks=COUNT_TICKS, minor_ticks=COUNT_MINOR)
bot.yaxis.major_label_text_font_size = "15px"
bot.yaxis.axis_label = "Count"
bot.yaxis.axis_label_text_font_size = "15px"
bot.yaxis.axis_label_standoff = 9
bot.ygrid.minor_grid_line_color = "#e9e9e9"

for s in ROUND_STARTS:
    bot.add_layout(Span(location=s, dimension="height", line_color="#555555",
                        line_alpha=0.7, line_width=1, line_dash="2 2"))

bsrc = ColumnDataSource(dict(t=T, ta=TRUTH_A, tb=TRUTH_B, pa=PRED_A, pb=PRED_B,
                             ha=HI_A, la=LO_A, hb=HI_B, lb=LO_B))
bot.varea(x="t", y1="la", y2="ha", source=bsrc, fill_color=RED, fill_alpha=0.13)
bot.line("t", "ha", source=bsrc, line_color=RED, line_alpha=0.12, line_width=1)
bot.line("t", "la", source=bsrc, line_color=RED, line_alpha=0.12, line_width=1)
bot.varea(x="t", y1="lb", y2="hb", source=bsrc, fill_color=BLUE, fill_alpha=0.13)
bot.line("t", "hb", source=bsrc, line_color=BLUE, line_alpha=0.12, line_width=1)
bot.line("t", "lb", source=bsrc, line_color=BLUE, line_alpha=0.12, line_width=1)

r_ta = bot.line("t", "ta", source=bsrc, line_color=RED, line_alpha=0.72, line_width=2.6)
r_tb = bot.line("t", "tb", source=bsrc, line_color=BLUE, line_alpha=0.72, line_width=2.6)
r_pa = bot.line("t", "pa", source=bsrc, line_color=RED, line_alpha=0.6, line_width=2.6,
                line_dash="3 4")
r_pb = bot.line("t", "pb", source=bsrc, line_color=BLUE, line_alpha=0.6, line_width=2.6,
                line_dash="3 4")

bot.text(x="x", y=43.25, text="t", source=round_src, x_offset=4, text_baseline="middle",
         text_align="left", text_font=value(FONT), text_font_size="16px",
         text_color="#666666")

bot_items = [
    LegendItem(label=f"Truth {NAME_A}: {TRUTH_FINAL_A}", renderers=[r_ta]),
    LegendItem(label=f"Truth {NAME_B}: {TRUTH_FINAL_B}", renderers=[r_tb]),
    LegendItem(label=f"Predicted {NAME_A}: {PRED_FINAL_A}", renderers=[r_pa]),
    LegendItem(label=f"Predicted {NAME_B}: {PRED_FINAL_B}", renderers=[r_pb]),
]
leg_bot = Legend(items=bot_items, location="top_left", label_text_font=FONT,
                 label_text_font_size="14px", glyph_width=30, glyph_height=15,
                 label_height=15, spacing=7, padding=8, margin=6, label_standoff=11,
                 border_line_color="#cccccc", border_line_width=1.5, background_fill_alpha=0.8)
bot.add_layout(leg_bot)

layout = column(top, bot, spacing=0)
open("out.html", "w").write(file_html(layout, INLINE))
